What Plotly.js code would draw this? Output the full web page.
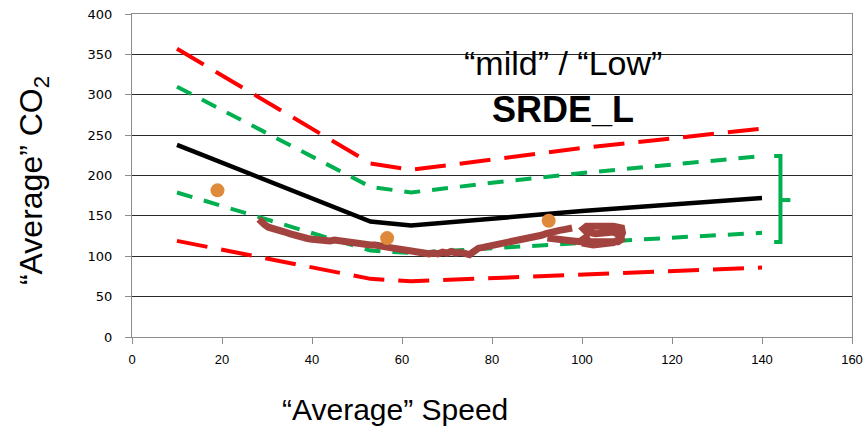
<!DOCTYPE html>
<html>
<head>
<meta charset="utf-8">
<script src="https://cdn.plot.ly/plotly-3.0.1.min.js"></script>
<style>html,body{margin:0;padding:0;background:#fff;}#chart{width:868px;height:430px;}</style>
</head>
<body>
<div id="chart"></div>
<script>
// Reference curves (speed points)
const speedPts = [10, 53, 62, 80, 100, 120, 140];
const meanCO2 = [238, 143, 138, 147, 156, 164, 172];
const upperRed = [357, 215, 207, 220, 234, 246, 258];
const upperGreen = [310, 186, 179, 191, 203, 213, 224];
const lowerGreen = [179, 107, 104, 110, 117, 123, 129];
const lowerRed = [119, 72, 69, 73, 78, 82, 86];

// Orange points
const dotSpeed = [19.0, 56.7, 92.6];
const dotCO2 = [181.6, 122.5, 144];

// Measured trace (brown)
const traceSpeed = [28.2,28.8,29.5,30.3,31,31.8,32.5,33.3,34,35,36,37,38,39,40,41,42,43,44,45,46,47,48,49,50,51,52,53,54,55,56,57,58,59,60,61,62,63,64,65,66,67,68,69,70,71,72,73,74,75,76,77,78,79,80,81,82,83,84,85,86,87,88,89,90,91,92,93,94,95,96,97,97.8,null,92.3,94,96,98,100,102,104,106,108,108.8,108.5,107,105,103,101,100.3,101,103,105,107,108.8,109,108.5,107,105,102.5,100.5,100.2,101.5];
const traceCO2 = [146,142,139,136,135,133,134,131,130,128,126,125,123,122,121,120,121,120,119,120,119,118,118,117,117,116,115,114,114,112,112,111,110,109,108,107,106,105,104,104,103,104,103,105,104,106,104,105,103,102,106,110,111,112,113,114,115,117,118,120,121,122,123,123,124,126,128,130,131,132,133,134,135,null,122.5,121,120,119,118,118,118,118,118,121,126,130,129,128,130,134,137,138,137,137,135,129,122,117,115,114,116,121,126];

// Bracket
const bracketX = [142.7, 144.1, 144.1, 142.7, null, 144.1, 146.3];
const bracketY = [224.2, 224.2, 117.5, 117.5, null, 169.6, 169.6];

const xTicks = [0, 20, 40, 60, 80, 100, 120, 140, 160];
const yTicks = [0, 50, 100, 150, 200, 250, 300, 350, 400];

const titleLine1 = '\u201cmild\u201d / \u201cLow\u201d';
const titleLine2 = '<b>SRDE_L</b>';
const xTitle = '\u201cAverage\u201d Speed';
const yTitle = '\u201cAverage\u201d CO<sub>2</sub>';

const RED = '#FF0000', GREEN = '#00B050';

const traces = [
  {x: speedPts, y: upperRed, mode: 'lines', line: {color: RED, width: 4, dash: '31px,14px'}},
  {x: speedPts, y: lowerRed, mode: 'lines', line: {color: RED, width: 4, dash: '31px,14px'}},
  {x: speedPts, y: upperGreen, mode: 'lines', line: {color: GREEN, width: 4, dash: '16px,12px'}},
  {x: speedPts, y: lowerGreen, mode: 'lines', line: {color: GREEN, width: 4, dash: '16px,12px'}},
  {x: speedPts, y: meanCO2, mode: 'lines', line: {color: '#000', width: 4.5}},
  {x: traceSpeed, y: traceCO2, mode: 'lines', connectgaps: false, line: {color: '#A3433F', width: 7}},
  {x: dotSpeed, y: dotCO2, mode: 'markers', marker: {color: '#DF8A3A', size: 14}},
  {x: bracketX, y: bracketY, mode: 'lines', connectgaps: false, line: {color: GREEN, width: 4}}
];

const layout = {
  width: 868, height: 430,
  margin: {l: 132, r: 16, t: 14, b: 93},
  paper_bgcolor: '#fff', plot_bgcolor: '#fff',
  showlegend: false,
  hovermode: false,
  xaxis: {
    range: [0, 160], tickvals: xTicks, ticktext: xTicks.map(String),
    showgrid: false, zeroline: false,
    showline: true, linecolor: '#8c8c8c', linewidth: 1, mirror: true,
    ticks: 'outside', ticklen: 6, tickcolor: '#8c8c8c',
    ticklabelstandoff: 4,
    tickfont: {family: 'Liberation Sans, Arial', size: 13, color: '#000'}
  },
  yaxis: {
    range: [0, 400], tickvals: yTicks, ticktext: yTicks.map(String),
    showgrid: true, gridcolor: '#2a2a2a', gridwidth: 1, zeroline: false,
    showline: true, linecolor: '#8c8c8c', linewidth: 1, mirror: true,
    ticks: 'outside', ticklen: 6, tickcolor: '#8c8c8c',
    ticklabelstandoff: 10,
    tickfont: {family: 'DejaVu Sans, Verdana', size: 13, color: '#000'}
  },
  annotations: [
    {text: titleLine1, xref: 'paper', yref: 'paper', x: 0.598, y: 0.848, xanchor: 'center', yanchor: 'middle', showarrow: false,
     font: {family: 'Liberation Sans, Arial', size: 34, color: '#000'}},
    {text: titleLine2, xref: 'paper', yref: 'paper', x: 0.598, y: 0.703, xanchor: 'center', yanchor: 'middle', showarrow: false,
     font: {family: 'Liberation Sans, Arial', size: 36, color: '#000'}},
    {text: xTitle, xref: 'paper', yref: 'paper', x: 0.365, y: -0.225, xanchor: 'center', yanchor: 'middle', showarrow: false,
     font: {family: 'Liberation Sans, Arial', size: 30, color: '#000'}},
    {text: yTitle, xref: 'paper', yref: 'paper', x: -0.136, y: 0.483, xanchor: 'center', yanchor: 'middle', showarrow: false, textangle: -90,
     font: {family: 'Liberation Sans, Arial', size: 32, color: '#000'}}
  ]
};

Plotly.newPlot('chart', traces, layout, {staticPlot: true, displayModeBar: false});
</script>
</body>
</html>
